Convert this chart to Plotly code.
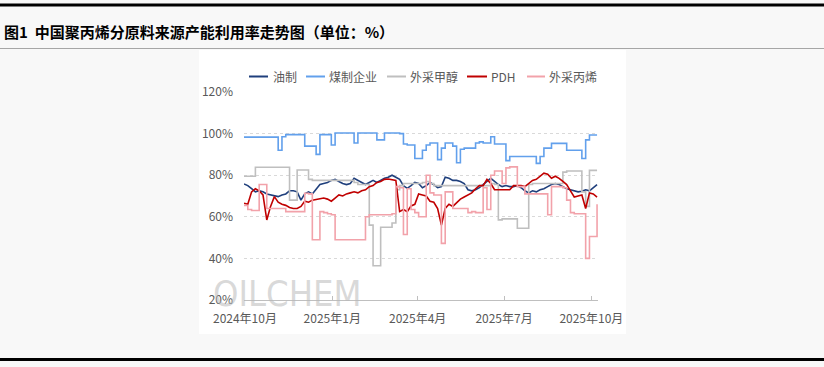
import pandas as pd
import plotly.graph_objects as go

start_date = "2024-09-30"
n_points = 94
dates = pd.date_range(start_date, periods=n_points, freq="4D")

series_names = ["油制", "煤制企业", "外采甲醇", "PDH", "外采丙烯"]

oil = [75.8, 75.0, 73.5, 72.0, 72.5, 72.0, 71.0, 70.5, 70.0, 69.7,
       70.5, 71.0, 72.5, 72.5, 72.0, 68.0, 71.0, 72.0, 71.0, 73.0,
       75.5, 76.0, 76.5, 77.5, 78.0, 77.0, 76.0, 75.5, 76.0, 78.5,
       77.5, 76.5, 75.5, 76.5, 77.5, 76.5, 77.5, 78.5, 79.0, 80.0,
       79.0, 78.0, 75.0, 73.7, 75.0, 76.5, 76.0, 74.0, 75.0, 76.5,
       75.5, 74.0, 74.5, 79.0, 78.5, 77.5, 77.5, 77.0, 76.0, 73.0,
       72.5, 73.0, 74.0, 75.5, 77.0, 78.5, 77.0, 75.5, 74.5, 75.0,
       74.5, 74.5, 75.0, 74.0, 72.5, 71.5, 72.5, 72.0, 73.0, 73.5,
       74.5, 75.5, 76.0, 75.5, 74.5, 73.5, 73.0, 72.5, 72.0, 72.3,
       73.0, 72.5, 74.0, 75.5]

coal = [98.3, 98.3, 98.3, 98.3, 98.3, 98.3, 98.3, 98.3, 98.3, 92.0,
        98.5, 99.5, 99.5, 99.5, 99.5, 99.5, 94.0, 94.0, 94.0, 90.0,
        99.5, 99.5, 99.5, 94.5, 100.3, 100.3, 100.3, 100.3, 100.3, 95.5,
        100.3, 100.3, 100.3, 100.3, 100.3, 97.0, 97.0, 100.3, 100.3, 100.3,
        100.3, 100.0, 95.0, 94.5, 94.5, 88.0, 88.0, 92.0, 94.5, 95.5,
        95.5, 87.5, 93.0, 95.5, 95.5, 94.0, 86.0, 92.5, 93.0, 93.0,
        93.0, 95.5, 96.0, 95.5, 95.5, 98.5, 95.0, 95.0, 95.0, 87.0,
        89.0, 89.0, 89.0, 89.0, 89.0, 89.0, 89.0, 85.7, 89.0, 93.0,
        93.0, 95.3, 95.3, 95.3, 95.3, 92.0, 92.0, 92.0, 92.0, 88.0,
        97.0, 99.3, 99.3, 99.3]

methanol = [79.5, 79.5, 79.5, 83.8, 83.8, 83.8, 83.8, 83.8, 83.8, 83.8,
            83.8, 83.8, 68.0, 68.0, 82.5, 82.5, 82.5, 78.0, 77.5, 77.5,
            77.5, 77.5, 77.5, 77.5, 77.5, 77.5, 77.5, 77.5, 77.5, 76.5,
            75.5, 75.5, 75.5, 56.0, 36.5, 36.5, 55.0, 55.0, 55.0, 57.0,
            73.0, 75.0, 76.0, 76.0, 76.0, 76.0, 76.0, 76.5, 77.0, 76.0,
            75.0, 75.0, 75.0, 75.0, 75.0, 75.0, 75.0, 75.0, 75.0, 75.0,
            75.0, 75.0, 75.0, 75.0, 75.0, 76.0, 75.5, 58.5, 59.0, 59.0,
            59.0, 59.0, 54.5, 54.5, 54.5, 75.5, 76.0, 76.0, 76.0, 76.0,
            76.0, 76.0, 76.0, 76.0, 81.5, 82.0, 82.0, 82.0, 82.0, 72.0,
            65.0, 82.3, 82.3, 82.3]

pdh = [66.5, 66.0, 72.0, 73.5, 72.5, 70.5, 58.5, 65.0, 69.7, 67.0,
       66.0, 65.5, 64.5, 64.0, 64.0, 65.0, 67.5, 67.0, 68.0, 68.3,
       68.5, 69.0, 68.5, 67.5, 69.0, 70.5, 70.0, 71.0, 71.5, 72.0,
       71.5, 72.5, 73.0, 74.5, 75.0, 76.5, 77.0, 78.0, 78.2, 78.0,
       77.5, 62.5, 63.5, 62.5, 65.2, 66.0, 71.0, 70.5, 70.0, 67.5,
       67.0, 64.0, 56.0, 64.0, 66.0, 65.0, 67.0, 68.5, 69.5, 70.5,
       71.5, 73.5, 75.0, 75.0, 78.0, 76.0, 73.0, 73.0, 73.0, 73.0,
       73.0, 75.0, 75.0, 75.0, 74.5, 76.0, 77.5, 78.0, 79.5, 81.0,
       80.5, 78.5, 79.5, 78.5, 77.0, 75.5, 72.5, 69.5, 70.0, 70.5,
       64.0, 71.5, 71.0, 69.5]

propylene = [65.5, 63.5, 63.0, 63.0, 75.5, 75.5, 64.0, 64.0, 64.0, 64.0,
             64.0, 62.5, 62.5, 62.5, 62.5, 62.5, 71.3, 71.0, 49.0, 49.0,
             62.5, 62.0, 61.5, 61.0, 49.0, 49.0, 49.0, 49.0, 49.0, 49.0,
             49.0, 49.0, 60.0, 61.0, 61.0, 61.0, 61.0, 61.0, 61.0, 61.5,
             74.5, 74.0, 51.5, 73.5, 63.5, 62.0, 60.0, 60.0, 80.0, 71.5,
             70.5, 70.5, 47.2, 72.0, 72.0, 64.0, 64.0, 64.0, 64.0, 62.0,
             62.5, 62.0, 62.0, 74.0, 63.5, 80.0, 82.0, 82.0, 76.0, 83.5,
             84.0, 84.0, 74.5, 74.5, 71.0, 71.0, 71.0, 71.0, 71.0, 71.0,
             61.0, 74.5, 74.5, 74.5, 74.0, 68.0, 62.0, 61.5, 61.5, 61.5,
             40.0, 50.5, 50.5, 66.0]

y_ticks = [20, 40, 60, 80, 100, 120]
y_tick_text = ["20%", "40%", "60%", "80%", "100%", "120%"]
x_tick_dates = ["2024-10-01", "2025-01-01", "2025-04-01", "2025-07-01", "2025-10-01"]
x_tick_text = ["2024年10月", "2025年1月", "2025年4月", "2025年7月", "2025年10月"]

colors = ["#1f3f7c", "#62a0ec", "#bfbfbf", "#c00000", "#f2a2aa"]
shapes_line = ["linear", "hv", "hv", "linear", "hv"]
all_values = [oil, coal, methanol, pdh, propylene]

title_text = "<b>图1  中国聚丙烯分原料来源产能利用率走势图（单位：%）</b>"

# ---- figure ----
W, H = 824, 367
L, R, T, B = 244, 226, 92, 67
pw, ph = W - L - R, H - T - B


def px(x):
    return (x - L) / pw


def py(y):
    return (H - B - y) / ph


fig = go.Figure()
for name, vals, col, shp in zip(series_names, all_values, colors, shapes_line):
    fig.add_trace(go.Scatter(x=dates, y=vals, name=name, mode="lines",
                             line=dict(color=col, width=1.6, shape=shp),
                             showlegend=False, hoverinfo="skip"))

CJK = "Noto Sans CJK SC, Microsoft YaHei, sans-serif"

shapes = [
    # white panel
    dict(type="rect", xref="paper", yref="paper", x0=px(199), x1=px(626),
         y0=py(334), y1=py(50), fillcolor="white", line_width=0, layer="below"),
    # top black rule
    dict(type="line", xref="paper", yref="paper", x0=px(0), x1=px(824),
         y0=py(5), y1=py(5), line=dict(color="black", width=3)),
    # grey rule under title
    dict(type="line", xref="paper", yref="paper", x0=px(0), x1=px(824),
         y0=py(48.5), y1=py(48.5), line=dict(color="#a6a6a6", width=1)),
    # bottom black rule
    dict(type="line", xref="paper", yref="paper", x0=px(0), x1=px(824),
         y0=py(359.5), y1=py(359.5), line=dict(color="black", width=3)),
]

annotations = [
    dict(text=title_text, xref="paper", yref="paper", x=px(2), y=py(32),
         xanchor="left", yanchor="middle", showarrow=False,
         font=dict(family=CJK, size=15, color="#000000")),
    dict(text="OILCHEM", xref="paper", yref="paper", x=px(287), y=py(293),
         xanchor="center", yanchor="middle", showarrow=False,
         font=dict(family="Liberation Sans Narrow, DejaVu Sans Condensed, sans-serif",
                   size=36, color="rgba(185,185,185,0.55)")),
]

# manual legend (compact, like the reference)
leg_line_x = [(249, 268), (306, 325), (387, 406), (467, 487), (527, 545)]
leg_text_x = [271, 327, 408, 489, 547]
leg_y = 76.5
for name, col, (a, b), tx in zip(series_names, colors, leg_line_x, leg_text_x):
    shapes.append(dict(type="line", xref="paper", yref="paper", x0=px(a), x1=px(b),
                       y0=py(leg_y), y1=py(leg_y), line=dict(color=col, width=2)))
    annotations.append(dict(text=name, xref="paper", yref="paper", x=px(tx), y=py(leg_y),
                            xanchor="left", yanchor="middle", showarrow=False,
                            font=dict(family=CJK, size=12, color="#595959")))

fig.update_layout(
    width=W, height=H,
    margin=dict(l=L, r=R, t=T, b=B, pad=0),
    paper_bgcolor="#f8f8f8",
    plot_bgcolor="rgba(0,0,0,0)",
    shapes=shapes,
    annotations=annotations,
    showlegend=False,
    font=dict(family=CJK, size=12, color="#595959"),
)

fig.update_xaxes(
    type="date",
    range=["2024-09-30", "2025-10-08"],
    tickvals=x_tick_dates, ticktext=x_tick_text,
    ticks="inside", ticklen=4, tickcolor="#bfbfbf", tickwidth=1,
    showline=True, linecolor="#bfbfbf", linewidth=1,
    showgrid=False, zeroline=False,
    ticklabelstandoff=8,
    tickfont=dict(family=CJK, size=12, color="#595959"),
)
fig.update_yaxes(
    range=[20, 120],
    tickvals=y_ticks, ticktext=y_tick_text,
    showgrid=True, gridcolor="#d9d9d9", griddash="dot", gridwidth=1,
    showline=False, zeroline=False, ticks="",
    ticklabelstandoff=10,
    tickfont=dict(family=CJK, size=12, color="#595959"),
)

fig.write_html("out.html",
               config={"displayModeBar": False, "staticPlot": True},
               post_script="document.body.style.margin='0';document.body.style.background='#f8f8f8';")
